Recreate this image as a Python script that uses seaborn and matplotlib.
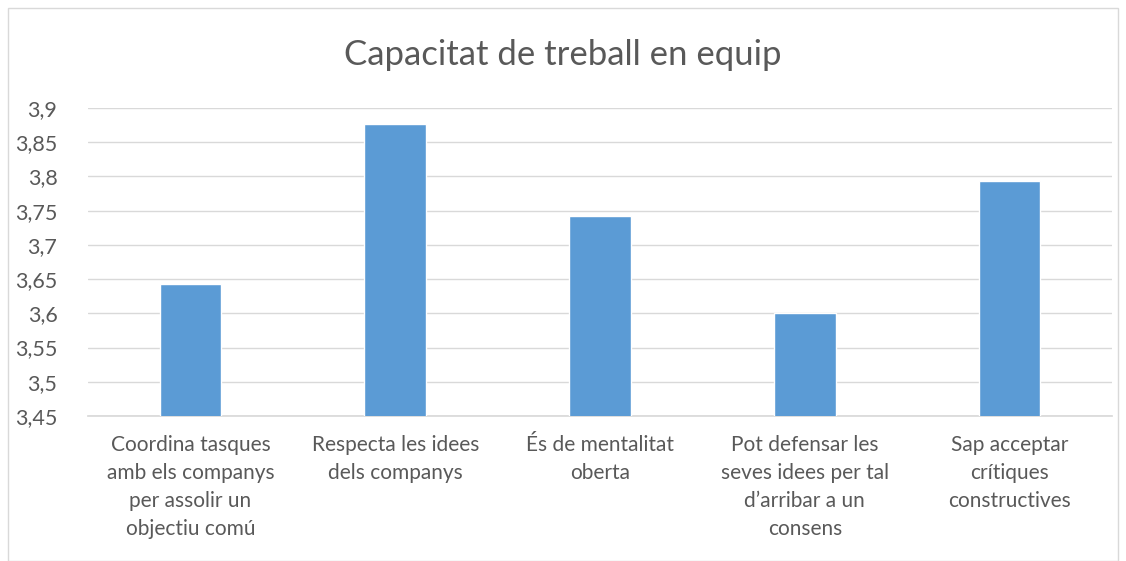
import matplotlib
matplotlib.use("Agg")
import matplotlib.pyplot as plt
import numpy as np
import pandas as pd
import seaborn as sns
from matplotlib.patches import Rectangle
from matplotlib.ticker import FixedLocator, FuncFormatter

TITLE = "Capacitat de treball en equip"

categories = [
    "Coordina tasques\namb els companys\nper assolir un\nobjectiu comú",
    "Respecta les idees\ndels companys",
    "És de mentalitat\noberta",
    "Pot defensar les\nseves idees per tal\nd\u2019arribar a un\nconsens",
    "Sap acceptar\ncrítiques\nconstructives",
]
values = [3.643, 3.877, 3.742, 3.600, 3.793]
y_ticks = [3.45, 3.5, 3.55, 3.6, 3.65, 3.7, 3.75, 3.8, 3.85, 3.9]

BAR_COLOR = "#5b9bd5"
TEXT_COLOR = "#595959"
GRID_COLOR = "#d9d9d9"

df = pd.DataFrame({"categoria": categories, "valor": values})

sns.set_theme(style="white")
plt.rcParams["font.family"] = ["Lato", "DejaVu Sans"]

fig = plt.figure(figsize=(11.26, 5.61), dpi=100)
ax = fig.add_axes([88 / 1126, 1 - 416 / 561, (1112 - 88) / 1126, (416 - 108) / 561])

# chart border like the spreadsheet export
fig.patches.append(Rectangle((8 / 1126, 0), 1 - 16 / 1126, 1 - 8 / 561,
                             transform=fig.transFigure, fill=False,
                             edgecolor=GRID_COLOR, linewidth=1))

sns.barplot(data=df, x="categoria", y="valor", color=BAR_COLOR,
            width=0.3, saturation=1, ax=ax, zorder=3)

ax.set_ylim(3.45, 3.9)
ax.yaxis.set_major_locator(FixedLocator(y_ticks))
ax.yaxis.set_major_formatter(FuncFormatter(lambda v, _: f"{v:g}".replace(".", ",")))
ax.grid(axis="y", color=GRID_COLOR, linewidth=1, zorder=0)
ax.set_axisbelow(True)
for side in ["top", "right", "left"]:
    ax.spines[side].set_visible(False)
ax.spines["bottom"].set_color(GRID_COLOR)
ax.spines["bottom"].set_zorder(1)

ax.set_xlabel("")
ax.set_ylabel("")
ax.tick_params(axis="y", labelsize=15.5, labelcolor=TEXT_COLOR, length=0, pad=22)
ax.tick_params(axis="x", labelsize=15, labelcolor=TEXT_COLOR, length=0, pad=14)
for lbl in ax.get_xticklabels():
    lbl.set_horizontalalignment("center")
    lbl.set_multialignment("center")
    lbl.set_linespacing(1.5)

fig.text(0.5, 1 - 55 / 561, TITLE, ha="center", va="center",
         fontsize=25, color=TEXT_COLOR)

fig.savefig("out.png", dpi=100, facecolor="white")
